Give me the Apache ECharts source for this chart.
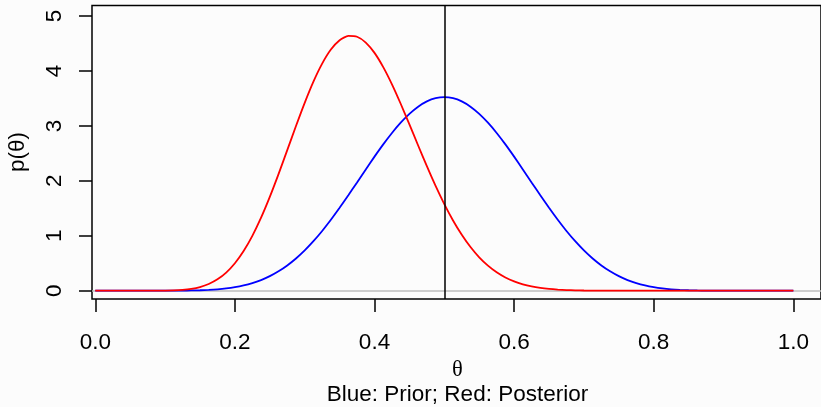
<!DOCTYPE html>
<html>
<head>
<meta charset="utf-8">
<script src="https://cdn.jsdelivr.net/npm/echarts@6/dist/echarts.min.js"></script>
<style>
  html, body { margin: 0; padding: 0; background: #fcfcfc; }
  #chart { width: 821px; height: 407px; }
</style>
</head>
<body>
<div id="chart"></div>
<script>
// theta grid (step 0.0125) and densities
var theta = [0, 0.0125, 0.025, 0.0375, 0.05, 0.0625, 0.075, 0.0875, 0.1, 0.1125,
  0.125, 0.1375, 0.15, 0.1625, 0.175, 0.1875, 0.2, 0.2125, 0.225, 0.2375,
  0.25, 0.2625, 0.275, 0.2875, 0.3, 0.3125, 0.325, 0.3375, 0.35, 0.3625,
  0.375, 0.3875, 0.4, 0.4125, 0.425, 0.4375, 0.45, 0.4625, 0.475, 0.4875,
  0.5, 0.5125, 0.525, 0.5375, 0.55, 0.5625, 0.575, 0.5875, 0.6, 0.6125,
  0.625, 0.6375, 0.65, 0.6625, 0.675, 0.6875, 0.7, 0.7125, 0.725, 0.7375,
  0.75, 0.7625, 0.775, 0.7875, 0.8, 0.8125, 0.825, 0.8375, 0.85, 0.8625,
  0.875, 0.8875, 0.9, 0.9125, 0.925, 0.9375, 0.95, 0.9625, 0.975, 0.9875, 1];
var prior = [0, 0, 0, 0, 0, 0, 0.00003, 0.0001, 0.0004, 0.0009,
  0.0021, 0.0043, 0.0082, 0.0148, 0.0252, 0.0408, 0.0635, 0.095, 0.1377, 0.1935,
  0.2646, 0.3529, 0.4598, 0.5866, 0.7338, 0.9009, 1.087, 1.2903, 1.508, 1.7365,
  1.9713, 2.2079, 2.4404, 2.6636, 2.871, 3.0583, 3.219, 3.3496, 3.4455, 3.5042,
  3.524, 3.5042, 3.4455, 3.3496, 3.219, 3.0583, 2.871, 2.6636, 2.4404, 2.2079,
  1.9713, 1.7365, 1.508, 1.2903, 1.087, 0.9009, 0.7338, 0.5866, 0.4598, 0.3529,
  0.2646, 0.1935, 0.1377, 0.095, 0.0635, 0.0408, 0.0252, 0.0148, 0.0082, 0.0043,
  0.0021, 0.0009, 0.0004, 0.0001, 0.00003, 0, 0, 0, 0, 0, 0];
var posterior = [0, 0, 0, 0, 0, 0, 0.0002, 0.0007, 0.0023, 0.0064,
  0.0156, 0.0338, 0.0668, 0.1216, 0.2065, 0.3299, 0.4998, 0.7219, 0.9989, 1.3294,
  1.7072, 2.1218, 2.5577, 2.9972, 3.4195, 3.8049, 4.1327, 4.3888, 4.5594, 4.6379,
  4.6224, 4.5167, 4.3285, 4.0697, 3.7564, 3.4029, 3.027, 2.643, 2.2669, 1.9076,
  1.5772, 1.2788, 1.0179, 0.7944, 0.6078, 0.4557, 0.3346, 0.2404, 0.1689, 0.1159,
  0.0776, 0.0507, 0.0322, 0.0199, 0.0119, 0.0069, 0.0039, 0.0021, 0.0011, 0.0006,
  0.0003, 0.0001, 0, 0, 0, 0, 0, 0, 0, 0,
  0, 0, 0, 0, 0, 0, 0, 0, 0, 0, 0];
var xTicks = [0, 0.2, 0.4, 0.6, 0.8, 1];
var yTicks = [0, 1, 2, 3, 4, 5];

function pairs(ys) {
  return theta.map(function (t, i) { return [t, ys[i]]; });
}

var font = 'Liberation Sans, Arial, sans-serif';
var chart = echarts.init(document.getElementById('chart'));

var option = {
  backgroundColor: '#fcfcfc',
  animation: false,
  grid: {
    left: 92, top: 5.5, right: -2, height: 293.5,
    show: true, borderColor: '#000', borderWidth: 1.5, backgroundColor: 'transparent'
  },
  xAxis: {
    type: 'value', min: -0.0047, max: 1.0396,
    splitLine: { show: false },
    axisLine: { show: false, onZero: false },
    axisTick: { show: true, length: 13, customValues: xTicks, lineStyle: { color: '#000', width: 1.5 } },
    axisLabel: {
      customValues: xTicks, margin: 33, fontSize: 22.5, lineHeight: 22,
      fontFamily: font, color: '#000',
      formatter: function (v) { return v.toFixed(1); }
    }
  },
  yAxis: {
    type: 'value', min: -0.151, max: 5.191,
    splitLine: { show: false },
    axisLine: { show: false, onZero: false },
    axisTick: { show: true, length: 13, customValues: yTicks, lineStyle: { color: '#000', width: 1.5 } },
    axisLabel: {
      customValues: yTicks, margin: 26, rotate: 90, fontSize: 22.5, lineHeight: 22,
      fontFamily: font, color: '#000'
    }
  },
  graphic: [
    {
      type: 'text', x: 18, y: 152, rotation: Math.PI / 2,
      style: { text: 'p(θ)', font: '22.5px ' + font, fill: '#000', textAlign: 'center', textVerticalAlign: 'middle' }
    },
    {
      type: 'text', x: 457.5, y: 370,
      style: { text: 'θ', font: '22.5px Liberation Serif, serif', fill: '#000', textAlign: 'center', textVerticalAlign: 'middle' }
    },
    {
      type: 'text', x: 457.5, y: 395,
      style: { text: 'Blue: Prior; Red: Posterior', font: '22.5px ' + font, fill: '#000', textAlign: 'center', textVerticalAlign: 'middle' }
    }
  ],
  series: [
    {
      // gray baseline at p = 0, drawn underneath the curves
      type: 'line', data: [], z: 1,
      markLine: {
        silent: true, symbol: 'none', label: { show: false }, z: 0,
        lineStyle: { color: '#bebebe', width: 1.5, type: 'solid' },
        data: [{ yAxis: 0 }]
      }
    },
    {
      type: 'line', data: pairs(prior), showSymbol: false, smooth: 0.2,
      lineStyle: { color: '#0000ff', width: 1.8 },
      z: 2
    },
    {
      type: 'line', data: pairs(posterior), showSymbol: false, smooth: 0.2,
      lineStyle: { color: '#ff0000', width: 1.8 },
      markLine: {
        silent: true, symbol: 'none', label: { show: false },
        lineStyle: { color: '#000', width: 1.5, type: 'solid' },
        data: [{ xAxis: 0.5 }]
      },
      z: 3
    }
  ]
};

chart.setOption(option);
</script>
</body>
</html>
